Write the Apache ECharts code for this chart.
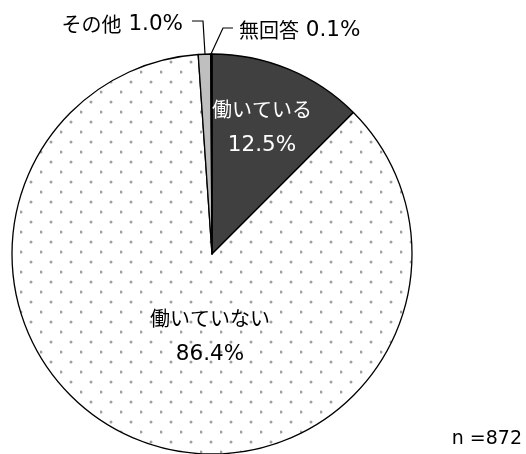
<!DOCTYPE html>
<html>
<head>
<meta charset="utf-8">
<script src="https://cdn.jsdelivr.net/npm/echarts@6/dist/echarts.min.js"></script>
<style>
html,body{margin:0;padding:0;background:#fff;}
#chart{width:526px;height:454px;}
</style>
</head>
<body>
<div id="chart"></div>
<script>
// ---- data ----
var categories = ['働いている', '働いていない', 'その他', '無回答'];
var values = [12.5, 86.4, 1.0, 0.1];
var valueLabels = ['12.5%', '86.4%', '1.0%', '0.1%'];
var sampleNote = 'n =872';

// ---- dotted pattern ----
var tile = document.createElement('canvas');
tile.width = 20; tile.height = 20;
var tc = tile.getContext('2d');
tc.fillStyle = '#ffffff';
tc.fillRect(0, 0, 20, 20);
tc.fillStyle = '#a0a0a0';
[[11, 2], [1, 12]].forEach(function (p) {
  tc.beginPath(); tc.arc(p[0], p[1], 1.5, 0, Math.PI * 2); tc.fill();
});

var fills = ['#404040', {image: tile, repeat: 'repeat'}, '#bfbfbf', '#1a1a1a'];
var labelColors = ['#ffffff', '#000000', '#000000', '#000000'];
var CJK = '"Noto Sans CJK JP"';
var NUM = '"DejaVu Sans"';

var data = categories.map(function (c, i) {
  var inside = i < 2;
  return {
    name: c,
    value: values[i],
    itemStyle: {color: fills[i]},
    label: {
      show: true,
      position: inside ? 'inside' : 'outside',
      formatter: inside ? '{c|' + c + '}\n{n|' + valueLabels[i] + '}' : '{c|' + c + '}{n| ' + valueLabels[i] + '}',
      color: labelColors[i],
      rich: {
        c: {fontFamily: CJK, fontSize: 20, color: labelColors[i], lineHeight: inside ? 36 : 24},
        n: {fontFamily: NUM, fontSize: 21.5, color: labelColors[i], lineHeight: inside ? 36 : 24}
      }
    },
    labelLine: {show: !inside, lineStyle: {color: '#000', width: 1.2}, smooth: false}
  };
});

var layouts = [
  {x: 262, y: 127, align: 'center', verticalAlign: 'middle'},
  {x: 210, y: 336, align: 'center', verticalAlign: 'middle'},
  {x: 183, y: 24, align: 'right', verticalAlign: 'middle', labelLinePoints: [[205, 54], [203, 21], [192, 21]]},
  {x: 239, y: 30, align: 'left', verticalAlign: 'middle', labelLinePoints: [[211, 54], [223, 28], [233, 28]]}
];

var chart = echarts.init(document.getElementById('chart'), null, {renderer: 'canvas'});
chart.setOption({
  animation: false,
  backgroundColor: '#ffffff',
  graphic: [{
    type: 'text', right: 4, top: 430,
    style: {text: sampleNote, font: '19px "DejaVu Sans"', fill: '#000'}
  }],
  series: [{
    type: 'pie',
    center: [212, 254],
    radius: 200,
    startAngle: 90,
    clockwise: true,
    avoidLabelOverlap: false,
    silent: true,
    itemStyle: {borderColor: '#000', borderWidth: 1.3},
    emphasis: {disabled: true},
    labelLayout: function (params) { return layouts[params.dataIndex]; },
    data: data
  }]
});
</script>
</body>
</html>
